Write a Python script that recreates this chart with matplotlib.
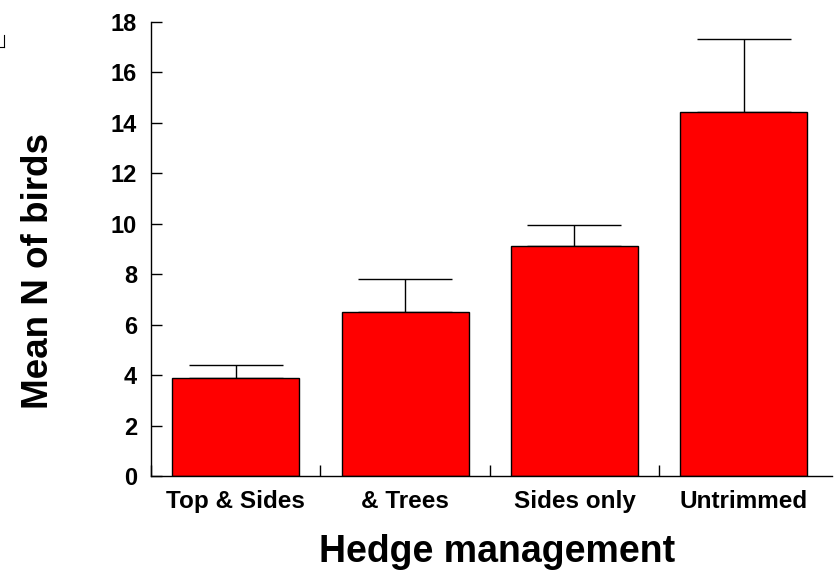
import matplotlib
matplotlib.use("Agg")
import matplotlib.pyplot as plt
from matplotlib.lines import Line2D

categories = ["Top & Sides", "& Trees", "Sides only", "Untrimmed"]
means = [3.88, 6.5, 9.1, 14.42]
errors = [0.52, 1.3, 0.86, 2.92]
yticks = [0, 2, 4, 6, 8, 10, 12, 14, 16, 18]

plt.rcParams['font.family'] = ['Liberation Sans', 'DejaVu Sans']

fig = plt.figure(figsize=(8.37, 5.71), dpi=100)
ax = fig.add_axes([0.1804, 0.1664, 0.8136, 0.7951])

x = list(range(len(categories)))
ax.bar(x, means, width=0.75, color='#ff0000', edgecolor='black', linewidth=1.0, zorder=2)
ax.errorbar(x, means, yerr=[[0]*len(errors), errors], fmt='none', ecolor='black',
            elinewidth=1.0, capsize=34, capthick=1.0, zorder=1)

ax.set_xlim(-0.5, 3.52)
ax.set_ylim(0, 18)
ax.set_yticks(yticks)
ax.set_yticklabels([str(v) for v in yticks], fontsize=17, fontweight='bold')
ax.set_xticks(x)
ax.set_xticklabels(categories, fontsize=17.5, fontweight='bold')
ax.set_xticks([-0.5, 0.5, 1.5, 2.5], minor=True)
ax.tick_params(axis='x', which='major', length=0, pad=10)
ax.tick_params(axis='x', which='minor', direction='in', length=8, width=1)
ax.tick_params(axis='y', direction='in', length=8, width=1, pad=10)

for s in ['top', 'right']:
    ax.spines[s].set_visible(False)
for s in ['left', 'bottom']:
    ax.spines[s].set_linewidth(1.0)

ax.set_ylabel("Mean N of birds", fontsize=26.5, fontweight='bold')
ax.yaxis.set_label_coords(-0.1395, 0.4515)
ax.set_xlabel("Hedge management", fontsize=27, fontweight='bold')
ax.xaxis.set_label_coords(0.5088, -0.127)

# small artifact mark at top-left
fig.add_artist(Line2D([0.0045, 0.0045], [1 - 35/571, 1 - 47/571], color='black', lw=0.8))
fig.add_artist(Line2D([0.0, 0.0045], [1 - 47/571, 1 - 47/571], color='black', lw=0.8))

fig.savefig("out.png", dpi=100)
